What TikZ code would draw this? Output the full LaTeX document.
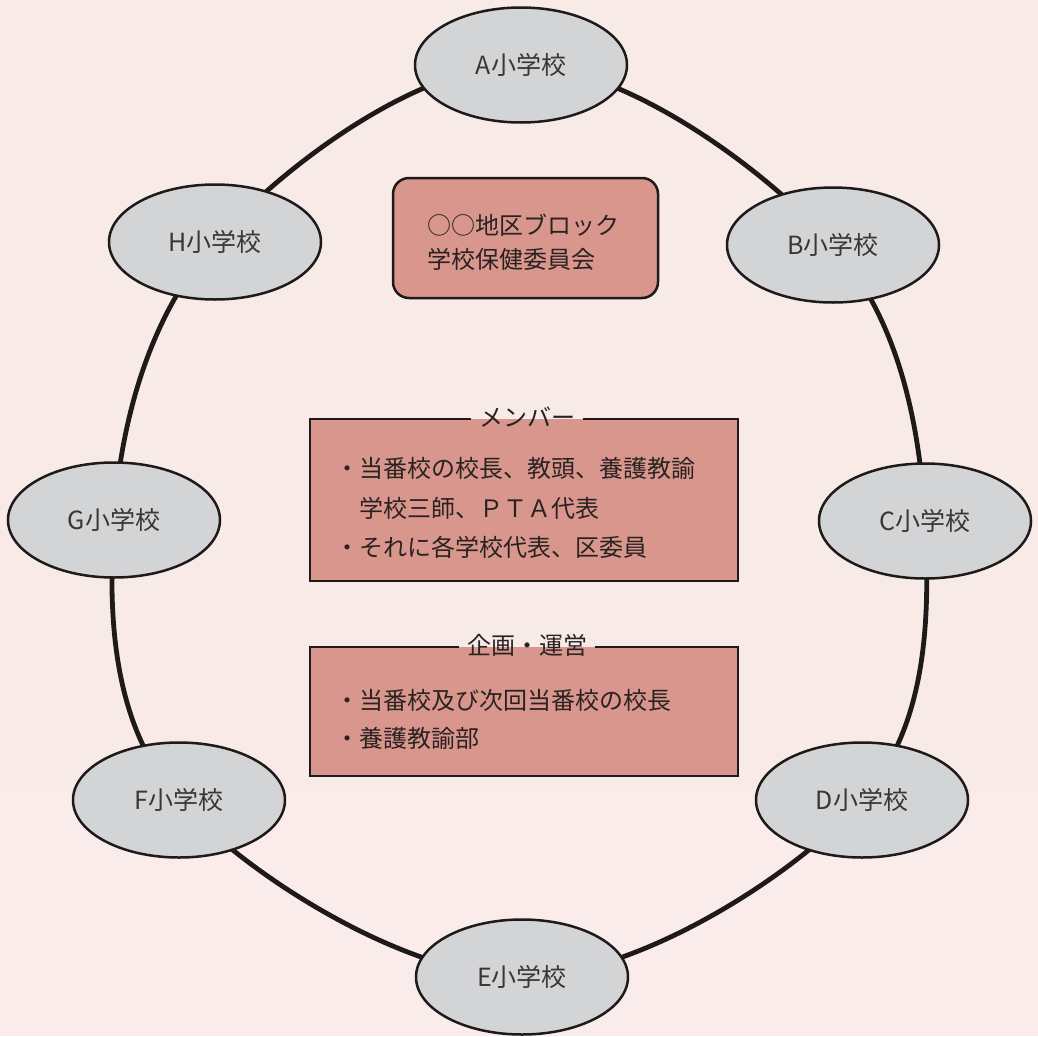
\documentclass[tikz,border=0pt]{standalone}
\usepackage{fontspec}
\setmainfont{Noto Sans CJK JP}
\usetikzlibrary{shapes.geometric}
\definecolor{bgc}{HTML}{F8EAE7}
\definecolor{bgc2}{HTML}{FAECEB}
\definecolor{boxc}{HTML}{D8968C}
\definecolor{elc}{HTML}{D3D4D6}
\definecolor{txt}{HTML}{3A3636}
\definecolor{btxt}{HTML}{2A2222}
\definecolor{ln}{HTML}{1E1A1A}
\pgfdeclarelayer{bglayer}
\pgfsetlayers{bglayer,main}
\begin{document}
\begin{tikzpicture}[x=1pt,y=-1pt,
  school/.style={ellipse, draw=ln, line width=2.5pt, fill=elc, minimum width=212pt,
    minimum height=115pt, inner sep=0pt, text=txt, font=\fontsize{25}{30}\selectfont},
  bodytext/.style={anchor=west, inner sep=0pt, text=btxt, font=\fontsize{24}{30}\selectfont},
  titletext/.style={inner sep=0pt, text=btxt, font=\fontsize{24}{30}\selectfont},
  panel/.style={fill=boxc, inner sep=0pt},
  loopline/.style={draw=ln, line width=4.8pt}]
\useasboundingbox (0,0) rectangle (1038,1036);

% schools
\node[school] (A) at (521,65) {A小学校};
\node[school] (B) at (833,245) {B小学校};
\node[school] (C) at (925,521) {C小学校};
\node[school] (D) at (862,800) {D小学校};
\node[school] (E) at (522,977) {E小学校};
\node[school] (F) at (179,800) {F小学校};
\node[school] (G) at (114,520) {G小学校};
\node[school] (H) at (215,242) {H小学校};

\begin{pgfonlayer}{bglayer}
\fill[bgc] (0,0) rectangle (1038,1036);
\fill[bgc2] (0,792) rectangle (1038,1036);
\draw[loopline] plot[smooth cycle, tension=0.6] coordinates {(A) (B) (C) (D) (E) (F) (G) (H)};
\end{pgfonlayer}

% committee box
\node[draw=ln, line width=2.5pt, fill=boxc, rounded corners=16pt, minimum width=265pt,
  minimum height=120pt, inner sep=0pt] (k) at (525.5,238) {};
\node[bodytext] (k1) at (427,225) {○○地区ブロック};
\node[bodytext] (k2) at (427,259) {学校保健委員会};

% members box
\node[panel, minimum width=428pt, minimum height=162pt] (m) at (524,500) {};
\node[titletext] (mt) at (527,417) {メンバー};
\draw[line width=2.5pt, draw=ln] ([xshift=8pt]mt.east |- m.north) -- (m.north east) -- (m.south east)
  -- (m.south west) -- (m.north west) -- ([xshift=-8pt]mt.west |- m.north);
\node[bodytext] (m1) at (335,468) {・当番校の校長、教頭、養護教諭};
\node[bodytext] (m2) at (359,508) {学校三師、ＰＴＡ代表};
\node[bodytext] (m3) at (335,547) {・それに各学校代表、区委員};

% planning box
\node[panel, minimum width=428pt, minimum height=129pt] (p) at (524,711.5) {};
\node[titletext] (pt) at (527,645) {企画・運営};
\draw[line width=2.5pt, draw=ln] ([xshift=8pt]pt.east |- p.north) -- (p.north east) -- (p.south east)
  -- (p.south west) -- (p.north west) -- ([xshift=-8pt]pt.west |- p.north);
\node[bodytext] (p1) at (335,700) {・当番校及び次回当番校の校長};
\node[bodytext] (p2) at (335,738) {・養護教諭部};
\end{tikzpicture}
\end{document}
